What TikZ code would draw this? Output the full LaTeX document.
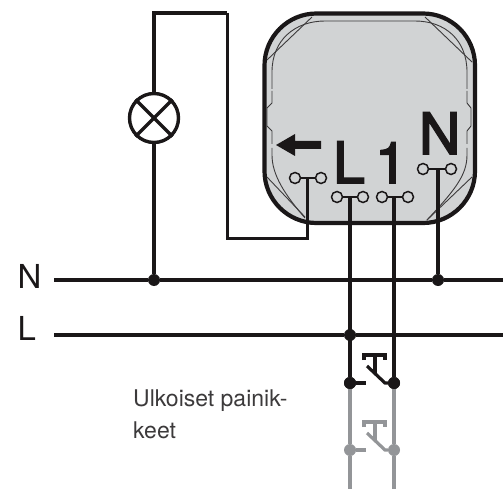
\documentclass[tikz,border=0pt]{standalone}
\usepackage{fontspec}
\setmainfont{TeX Gyre Heros}
\newfontfamily\heavyfont[FakeBold=3]{TeX Gyre Heros}
\definecolor{boxgray}{HTML}{D1D3D4}
\definecolor{wiregray}{HTML}{939598}
\definecolor{inkblack}{HTML}{1A1718}
\tikzset{
  wire/.style={draw=inkblack,line width=3.2pt},
  loopwire/.style={draw=inkblack,line width=3pt},
  greywire/.style={draw=wiregray,line width=3.2pt},
  thinwire/.style={draw=inkblack,line width=2.2pt},
  dot/.style={circle,fill=inkblack,inner sep=0pt,minimum size=12pt},
  greydot/.style={circle,fill=wiregray,inner sep=0pt,minimum size=12pt},
  term/.style={circle,draw=inkblack,fill=boxgray,line width=1.5pt,inner sep=0pt,minimum size=11pt},
  contour/.style={draw=inkblack!85,line width=0.9pt},
  biglabel/.style={inner sep=0pt,text=inkblack,font=\fontsize{57}{57}\selectfont\heavyfont},
  linelabel/.style={inner sep=0pt,text=inkblack,font=\fontsize{33}{33}\selectfont},
  captiontext/.style={inner sep=0pt,text=inkblack!85,font=\fontsize{23}{23}\selectfont}
}
\begin{document}
\begin{tikzpicture}[x=1pt,y=-1pt,line join=miter]
  \useasboundingbox (0,0) rectangle (503,489);

  % device body
  \filldraw[fill=boxgray,draw=inkblack,line width=4.2pt,rounded corners=52pt] (264.5,13.5) rectangle (475,223);
  \draw[contour] (272,89) -- (272,72) .. controls (272,40) and (295,21) .. (325,21) -- (415,21)
    .. controls (445,21) and (467,40) .. (467,72) -- (467,89);
  \draw[contour] (272,91) -- (272,103) -- (267,108) -- (267,126) -- (272,131) -- (272,144);
  \draw[contour] (467,91) -- (467,103) -- (471,108) -- (471,126) -- (467,131) -- (467,144);
  \draw[contour] (272,148) -- (272,155) .. controls (272,175) and (285,195) .. (305,218);
  \draw[contour] (467,148) -- (467,155) .. controls (467,175) and (455,190) .. (427,220);
  \draw[contour] (312,17) -- (267,60);
  \draw[contour] (425,17) -- (472,62);
  \draw[contour] (267,177) -- (305,217);
  \draw[contour] (472,177) -- (427,220);

  % labels on the device
  \node[biglabel,anchor=base west] (labL) at (333,183) {L};
  \node[biglabel,anchor=base west] (labOne) at (375,183) {1};
  \node[biglabel,anchor=base west] (labN) at (419,154) {N};
  \fill[inkblack] (276,145) -- (295,134) -- (295,141) -- (321,141) -- (321,149) -- (295,149) -- (295,156) -- cycle;

  % terminals
  \node[term] (outA) at (295,178) {};
  \node[term] (outB) at (321,178) {};
  \node[term] (lA) at (337,197) {};
  \node[term] (lB) at (363,197) {};
  \node[term] (oneA) at (382,197) {};
  \node[term] (oneB) at (408,197) {};
  \node[term] (nA) at (423,169) {};
  \node[term] (nB) at (451,169) {};
  \draw[thinwire] (outA) -- (outB);
  \draw[thinwire] (lA) -- (lB);
  \draw[thinwire] (oneA) -- (oneB);
  \draw[thinwire] (nA) -- (nB);

  % junctions
  \coordinate (outTap) at (307,178);
  \coordinate (lTap) at (350,197);
  \coordinate (oneTap) at (394,197);
  \coordinate (nTap) at (438,169);
  \coordinate (nStart) at (54,280);
  \coordinate (nEnd) at (503,280);
  \coordinate (lStart) at (54,335);
  \coordinate (lEnd) at (503,335);
  \coordinate (loopA) at (154,13);
  \coordinate (loopB) at (227,13);
  \coordinate (loopC) at (227,238);
  \coordinate (loopD) at (307,238);
  \node[dot] (dotLamp) at (154,280) {};
  \node[dot] (dotN) at (438,280) {};
  \node[dot] (dotL) at (350,335) {};
  \node[dot] (swA) at (350,383) {};
  \node[dot] (swB) at (394,383) {};
  \node[greydot] (gswA) at (350,450) {};
  \node[greydot] (gswB) at (394,450) {};
  \coordinate (gEndA) at (350,489);
  \coordinate (gEndB) at (394,489);

  % mains
  \draw[wire] (nStart) -- (dotLamp) -- (dotN) -- (nEnd);
  \draw[wire] (lStart) -- (dotL) -- (lEnd);
  \node[linelabel,anchor=base west] (textN) at (17.5,288) {N};
  \node[linelabel,anchor=base west] (textL) at (17.5,340) {L};

  % lamp
  \node[circle,draw=inkblack,line width=3.4pt,minimum size=49pt,inner sep=0pt] (lamp) at (154,118) {};
  \draw[wire] (lamp.north west) -- (lamp.south east);
  \draw[wire] (lamp.north east) -- (lamp.south west);
  \draw[wire] (lamp.north) -- (loopA) -- (loopB);
  \draw[loopwire] (loopB) -- (loopC) -- (loopD) -- (outTap);
  \draw[wire] (lamp.south) -- (dotLamp);

  % drops from the device
  \draw[wire] (lTap) -- (swA);
  \draw[wire] (oneTap) -- (swB);
  \draw[wire] (nTap) -- (dotN);
  \draw[greywire] (swA) -- (gswA) -- (gEndA);
  \draw[greywire] (swB) -- (gswB) -- (gEndB);
  \node[dot] at (swA) {};
  \node[dot] at (swB) {};

  % push button
  \draw[wire] (swA) -- ++(16,0);
  \draw[wire] (swB) -- (385,383) -- (367,366);
  \draw[wire] (364,360) -- (364,355) -- (385,355) -- (385,360);
  \draw[wire] (375,355) -- (375,373);

  % grey push button
  \draw[greywire] (gswA) -- ++(16,0);
  \draw[greywire] (gswB) -- (385,450) -- (367,433);
  \draw[greywire] (364,427) -- (364,422) -- (385,422) -- (385,427);
  \draw[greywire] (375,422) -- (375,440);

  \node[captiontext,anchor=base west] (caption) at (133,406) {Ulkoiset painik-};
  \node[captiontext,anchor=base west] (captionB) at (133,438) {keet};
\end{tikzpicture}
\end{document}
